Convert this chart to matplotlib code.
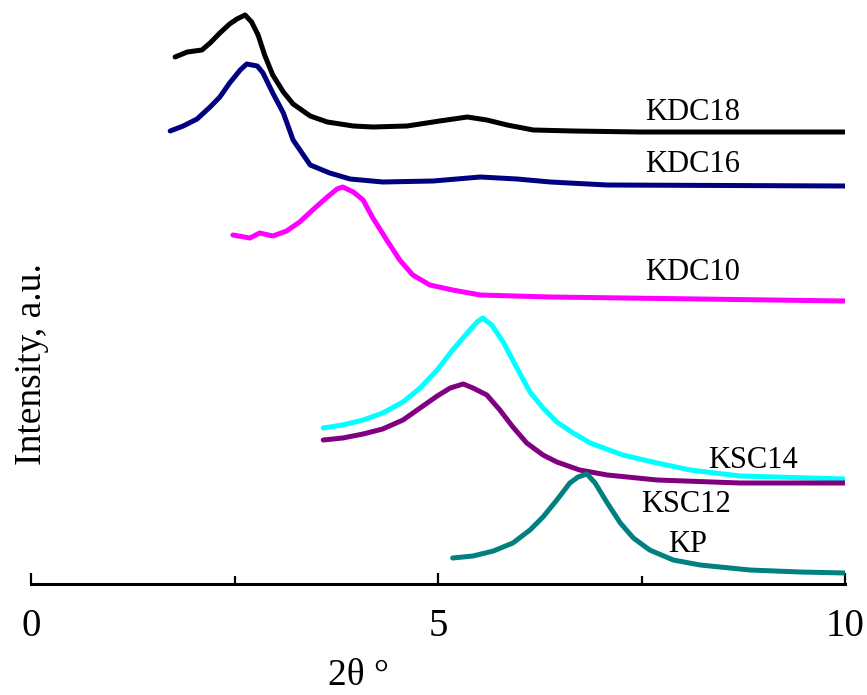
import numpy as np
import matplotlib
matplotlib.use("Agg")
import matplotlib.pyplot as plt

plt.rcParams['font.family'] = ['Liberation Serif', 'DejaVu Serif']

# XRD patterns, 2theta (deg) vs intensity (a.u., stacked)
kdc18_x = [1.77, 1.92, 2.10, 2.20, 2.32, 2.44, 2.53, 2.63, 2.71, 2.79, 2.87, 2.97, 3.10, 3.22,
           3.43, 3.64, 3.96, 4.20, 4.62, 5.02, 5.36, 5.60, 5.85, 6.17, 6.66, 7.48, 10.0]
kdc18_y = [527, 532, 534, 541, 551, 560, 565, 569, 562, 549, 529, 509, 492, 480,
           468, 462, 458, 457, 458, 463, 467, 464, 459, 454, 453, 452, 452]

kdc16_x = [1.71, 1.87, 2.04, 2.20, 2.32, 2.44, 2.57, 2.65, 2.78, 2.85, 2.97, 3.10, 3.22,
           3.43, 3.67, 3.92, 4.32, 4.94, 5.52, 5.97, 6.38, 7.08, 10.0]
kdc16_y = [453, 458, 465, 477, 487, 501, 514, 520, 518, 511, 491, 471, 444,
           419, 411, 405, 402, 403, 407, 405, 402, 399, 398]

kdc10_x = [2.48, 2.69, 2.81, 2.97, 3.14, 3.30, 3.46, 3.64, 3.76, 3.83, 3.96, 4.08, 4.20,
           4.37, 4.53, 4.69, 4.90, 5.18, 5.52, 6.38, 8.22, 10.0]
kdc10_y = [349, 346, 351, 348, 353, 362, 374, 387, 395, 397, 392, 384, 366,
           344, 324, 309, 299, 294, 289, 287, 285, 283]

ksc14_x = [3.59, 3.83, 4.08, 4.32, 4.57, 4.78, 4.99, 5.18, 5.36, 5.48, 5.55, 5.66, 5.80,
           5.97, 6.13, 6.29, 6.46, 6.66, 6.87, 7.27, 7.69, 8.10, 8.71, 10.0]
ksc14_y = [156, 159, 164, 171, 182, 196, 214, 234, 251, 262, 266, 259, 242,
           216, 192, 176, 162, 151, 141, 129, 121, 114, 108, 105]

ksc12_x = [3.59, 3.83, 4.08, 4.32, 4.57, 4.78, 4.99, 5.15, 5.31, 5.43, 5.60, 5.76, 5.92,
           6.09, 6.29, 6.46, 6.74, 7.08, 7.69, 8.71, 10.0]
ksc12_y = [144, 146, 150, 155, 164, 176, 188, 196, 200, 196, 189, 174, 157,
           141, 129, 122, 114, 109, 104, 101, 101]

kp_x = [5.18, 5.43, 5.68, 5.92, 6.13, 6.29, 6.46, 6.62, 6.72, 6.83, 6.93, 7.08, 7.24,
        7.40, 7.60, 7.89, 8.22, 8.83, 9.45, 10.0]
kp_y = [26, 28, 33, 41, 54, 67, 84, 101, 107, 110, 101, 81, 61,
        46, 34, 24, 19, 14, 12, 11]

series = [
    (kdc18_x, kdc18_y, 'black', 'KDC18', (7.54, 472)),
    (kdc16_x, kdc16_y, '#000080', 'KDC16', (7.54, 419)),
    (kdc10_x, kdc10_y, '#FF00FF', 'KDC10', (7.54, 311)),
    (ksc14_x, ksc14_y, '#00FFFF', 'KSC14', (8.32, 124)),
    (ksc12_x, ksc12_y, '#800080', 'KSC12', (7.50, 79)),
    (kp_x, kp_y, '#008080', 'KP', (7.83, 39)),
]

fig = plt.figure(figsize=(8.67, 6.95), dpi=100)
ax = fig.add_axes([31 / 867, 111 / 695, 814 / 867, 584 / 695])

for x, y, c, name, pos in series:
    ax.plot(x, y, color=c, lw=3.6, solid_capstyle='round', solid_joinstyle='round')
    ax.text(pos[0], pos[1], name, fontsize=22, ha='left', va='center')

ax.set_xlim(0, 10)
ax.set_ylim(0, 584)
for s in ['left', 'right', 'top']:
    ax.spines[s].set_visible(False)
ax.spines['bottom'].set_linewidth(2.2)
ax.set_yticks([])
ax.set_xticks([0, 5, 10])
ax.set_xticks([2.5, 7.5], minor=True)
ax.tick_params(axis='x', which='major', direction='in', length=8, width=1.6,
               labelsize=28, pad=17)
ax.tick_params(axis='x', which='minor', direction='in', length=5.5, width=1.6)

fig.text(358 / 867, 1 - 676 / 695, '2θ °', fontsize=27, ha='center', va='center')
fig.text(32 / 867, 1 - 364 / 695, 'Intensity, a.u.', fontsize=27, rotation=90,
         ha='center', va='center')

fig.savefig('out.png', dpi=100)
